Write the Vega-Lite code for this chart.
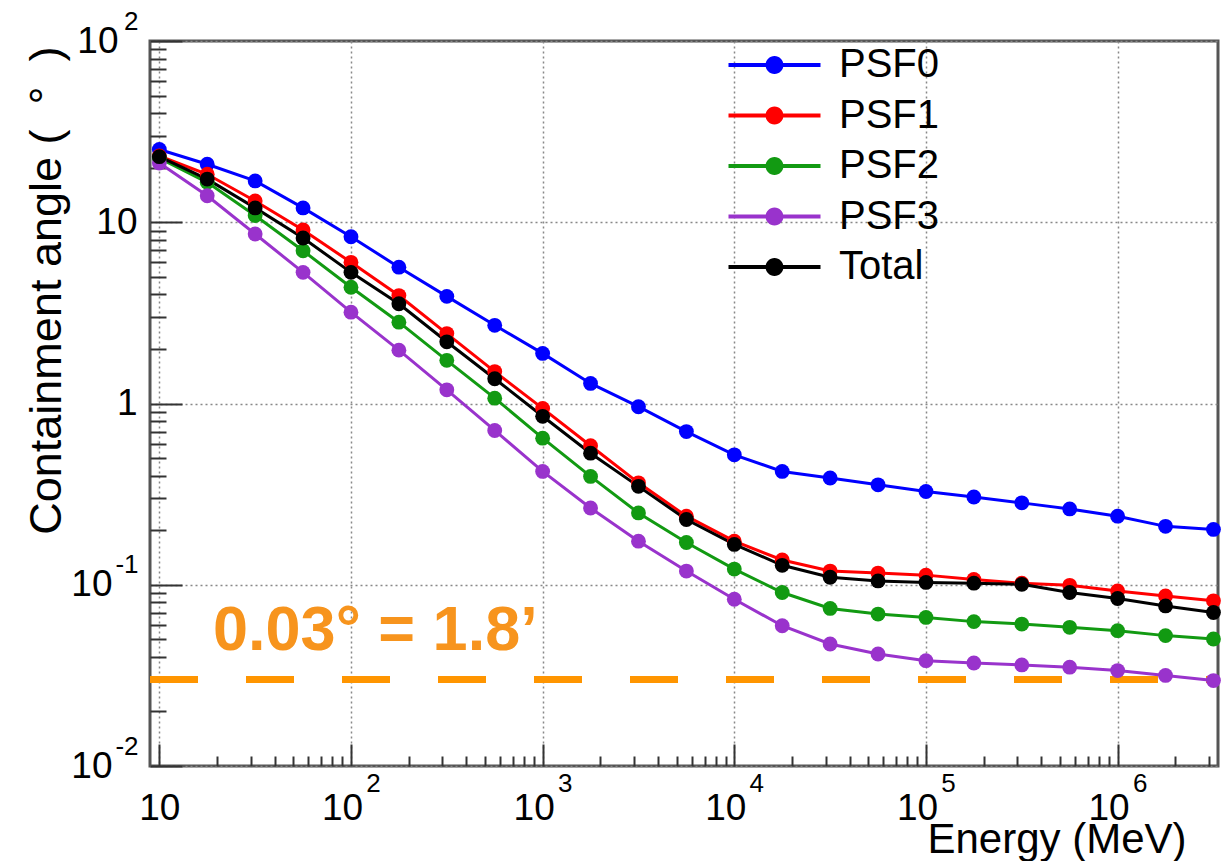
{
  "$schema": "https://vega.github.io/schema/vega-lite/v6.json",
  "width": 1068,
  "height": 725,
  "autosize": {"type": "none"},
  "padding": {"left": 150, "top": 41, "right": 12, "bottom": 95},
  "background": "white",
  "config": {
    "font": "Liberation Sans",
    "view": {"stroke": "#555", "strokeWidth": 3},
    "axis": {"domain": false, "labelFont": "Liberation Sans", "titleFont": "Liberation Sans", "labelColor": "#000", "titleColor": "#000", "labelOverlap": false, "labelFlush": false, "tickColor": "#333", "tickWidth": 2, "titleFontWeight": "normal"}
  },
  "datasets": {
    "psf": [
      {"energy": 10, "series": "PSF0", "angle": 25.2}, {"energy": 17.78, "series": "PSF0", "angle": 20.9}, {"energy": 31.62, "series": "PSF0", "angle": 16.9}, {"energy": 56.23, "series": "PSF0", "angle": 12.0}, {"energy": 100, "series": "PSF0", "angle": 8.32}, {"energy": 177.8, "series": "PSF0", "angle": 5.65}, {"energy": 316.2, "series": "PSF0", "angle": 3.90}, {"energy": 562.3, "series": "PSF0", "angle": 2.70}, {"energy": 1000, "series": "PSF0", "angle": 1.89}, {"energy": 1778, "series": "PSF0", "angle": 1.29}, {"energy": 3162, "series": "PSF0", "angle": 0.96}, {"energy": 5623, "series": "PSF0", "angle": 0.70}, {"energy": 10000, "series": "PSF0", "angle": 0.521}, {"energy": 17783, "series": "PSF0", "angle": 0.422}, {"energy": 31623, "series": "PSF0", "angle": 0.388}, {"energy": 56234, "series": "PSF0", "angle": 0.356}, {"energy": 100000, "series": "PSF0", "angle": 0.327}, {"energy": 177828, "series": "PSF0", "angle": 0.305}, {"energy": 316228, "series": "PSF0", "angle": 0.283}, {"energy": 562341, "series": "PSF0", "angle": 0.262}, {"energy": 1000000, "series": "PSF0", "angle": 0.239}, {"energy": 1778279, "series": "PSF0", "angle": 0.210}, {"energy": 3162278, "series": "PSF0", "angle": 0.202},
      {"energy": 10, "series": "PSF1", "angle": 23.2}, {"energy": 17.78, "series": "PSF1", "angle": 18.4}, {"energy": 31.62, "series": "PSF1", "angle": 13.1}, {"energy": 56.23, "series": "PSF1", "angle": 9.06}, {"energy": 100, "series": "PSF1", "angle": 6.01}, {"energy": 177.8, "series": "PSF1", "angle": 3.94}, {"energy": 316.2, "series": "PSF1", "angle": 2.43}, {"energy": 562.3, "series": "PSF1", "angle": 1.50}, {"energy": 1000, "series": "PSF1", "angle": 0.94}, {"energy": 1778, "series": "PSF1", "angle": 0.585}, {"energy": 3162, "series": "PSF1", "angle": 0.365}, {"energy": 5623, "series": "PSF1", "angle": 0.239}, {"energy": 10000, "series": "PSF1", "angle": 0.174}, {"energy": 17783, "series": "PSF1", "angle": 0.137}, {"energy": 31623, "series": "PSF1", "angle": 0.119}, {"energy": 56234, "series": "PSF1", "angle": 0.116}, {"energy": 100000, "series": "PSF1", "angle": 0.113}, {"energy": 177828, "series": "PSF1", "angle": 0.107}, {"energy": 316228, "series": "PSF1", "angle": 0.102}, {"energy": 562341, "series": "PSF1", "angle": 0.0993}, {"energy": 1000000, "series": "PSF1", "angle": 0.0925}, {"energy": 1778279, "series": "PSF1", "angle": 0.0867}, {"energy": 3162278, "series": "PSF1", "angle": 0.0815},
      {"energy": 10, "series": "PSF2", "angle": 22.6}, {"energy": 17.78, "series": "PSF2", "angle": 16.6}, {"energy": 31.62, "series": "PSF2", "angle": 10.9}, {"energy": 56.23, "series": "PSF2", "angle": 6.96}, {"energy": 100, "series": "PSF2", "angle": 4.38}, {"energy": 177.8, "series": "PSF2", "angle": 2.81}, {"energy": 316.2, "series": "PSF2", "angle": 1.73}, {"energy": 562.3, "series": "PSF2", "angle": 1.07}, {"energy": 1000, "series": "PSF2", "angle": 0.644}, {"energy": 1778, "series": "PSF2", "angle": 0.396}, {"energy": 3162, "series": "PSF2", "angle": 0.249}, {"energy": 5623, "series": "PSF2", "angle": 0.171}, {"energy": 10000, "series": "PSF2", "angle": 0.122}, {"energy": 17783, "series": "PSF2", "angle": 0.0906}, {"energy": 31623, "series": "PSF2", "angle": 0.074}, {"energy": 56234, "series": "PSF2", "angle": 0.0689}, {"energy": 100000, "series": "PSF2", "angle": 0.066}, {"energy": 177828, "series": "PSF2", "angle": 0.0626}, {"energy": 316228, "series": "PSF2", "angle": 0.0607}, {"energy": 562341, "series": "PSF2", "angle": 0.0582}, {"energy": 1000000, "series": "PSF2", "angle": 0.0558}, {"energy": 1778279, "series": "PSF2", "angle": 0.0524}, {"energy": 3162278, "series": "PSF2", "angle": 0.0502},
      {"energy": 10, "series": "PSF3", "angle": 21.2}, {"energy": 17.78, "series": "PSF3", "angle": 14.0}, {"energy": 31.62, "series": "PSF3", "angle": 8.61}, {"energy": 56.23, "series": "PSF3", "angle": 5.29}, {"energy": 100, "series": "PSF3", "angle": 3.19}, {"energy": 177.8, "series": "PSF3", "angle": 1.97}, {"energy": 316.2, "series": "PSF3", "angle": 1.19}, {"energy": 562.3, "series": "PSF3", "angle": 0.71}, {"energy": 1000, "series": "PSF3", "angle": 0.422}, {"energy": 1778, "series": "PSF3", "angle": 0.265}, {"energy": 3162, "series": "PSF3", "angle": 0.174}, {"energy": 5623, "series": "PSF3", "angle": 0.119}, {"energy": 10000, "series": "PSF3", "angle": 0.0832}, {"energy": 17783, "series": "PSF3", "angle": 0.0594}, {"energy": 31623, "series": "PSF3", "angle": 0.0471}, {"energy": 56234, "series": "PSF3", "angle": 0.0415}, {"energy": 100000, "series": "PSF3", "angle": 0.0381}, {"energy": 177828, "series": "PSF3", "angle": 0.0370}, {"energy": 316228, "series": "PSF3", "angle": 0.0361}, {"energy": 562341, "series": "PSF3", "angle": 0.0351}, {"energy": 1000000, "series": "PSF3", "angle": 0.0336}, {"energy": 1778279, "series": "PSF3", "angle": 0.0316}, {"energy": 3162278, "series": "PSF3", "angle": 0.0296},
      {"energy": 10, "series": "Total", "angle": 23.0}, {"energy": 17.78, "series": "Total", "angle": 17.3}, {"energy": 31.62, "series": "Total", "angle": 12.0}, {"energy": 56.23, "series": "Total", "angle": 8.19}, {"energy": 100, "series": "Total", "angle": 5.29}, {"energy": 177.8, "series": "Total", "angle": 3.55}, {"energy": 316.2, "series": "Total", "angle": 2.19}, {"energy": 562.3, "series": "Total", "angle": 1.37}, {"energy": 1000, "series": "Total", "angle": 0.85}, {"energy": 1778, "series": "Total", "angle": 0.532}, {"energy": 3162, "series": "Total", "angle": 0.349}, {"energy": 5623, "series": "Total", "angle": 0.229}, {"energy": 10000, "series": "Total", "angle": 0.167}, {"energy": 17783, "series": "Total", "angle": 0.128}, {"energy": 31623, "series": "Total", "angle": 0.110}, {"energy": 56234, "series": "Total", "angle": 0.105}, {"energy": 100000, "series": "Total", "angle": 0.103}, {"energy": 177828, "series": "Total", "angle": 0.102}, {"energy": 316228, "series": "Total", "angle": 0.1005}, {"energy": 562341, "series": "Total", "angle": 0.0906}, {"energy": 1000000, "series": "Total", "angle": 0.0840}, {"energy": 1778279, "series": "Total", "angle": 0.0764}, {"energy": 3162278, "series": "Total", "angle": 0.0703}
    ]
  },
  "layer": [
    {
      "data": {"values": [{"limit": 0.03}]},
      "mark": {"type": "rule", "color": "#FF9500", "strokeWidth": 7, "strokeDash": [48, 48], "strokeDashOffset": 36},
      "encoding": {
        "y": {"field": "limit", "type": "quantitative", "scale": {"type": "log", "domain": [0.01, 100], "nice": false},
          "axis": {"orient": "left", "values": [100, 0.1, 0.01], "labelExpr": "datum.value > 50 ? '2' : (datum.value > 0.05 ? '-1' : '-2')", "ticks": false, "tickSize": 0, "grid": false, "labelAlign": "right", "labelBaseline": "middle", "labelFontSize": 26, "labelPadding": 12, "labelOffset": -20, "title": null}}
      }
    },
    {
      "data": {"name": "psf"},
      "mark": {"type": "line", "strokeWidth": 3},
      "encoding": {
        "x": {"field": "energy", "type": "quantitative", "scale": {"type": "log", "domain": [8.94, 3340000], "nice": false},
          "axis": {"orient": "bottom", "values": [10, 100, 1000, 10000, 100000, 1000000], "labels": false, "ticks": true, "tickSize": -22, "grid": true, "gridDash": [2, 3], "gridColor": "#888", "gridWidth": 1.5, "title": null}},
        "y": {"field": "angle", "type": "quantitative", "scale": {"type": "log", "domain": [0.01, 100], "nice": false},
          "axis": {"orient": "left", "values": [0.01, 0.1, 1, 10, 100], "labels": false, "ticks": true, "tickSize": -32, "grid": true, "gridDash": [2, 3], "gridColor": "#888", "gridWidth": 1.5, "title": null}},
        "color": {"field": "series", "type": "nominal",
          "scale": {"domain": ["PSF0", "PSF1", "PSF2", "PSF3", "Total"], "range": ["#0000FF", "#FF0000", "#129A12", "#9933CC", "#000000"]},
          "legend": {"orient": "none", "legendX": 604.5, "legendY": 4, "title": null, "symbolType": "M-4,-0.17H4V0.17H-4Z M0.78,0A0.78,0.78,0,1,1,-0.78,0A0.78,0.78,0,1,1,0.78,0Z", "symbolSize": 529, "symbolStrokeWidth": 0, "symbolOpacity": 1, "labelFontSize": 40, "labelFont": "Liberation Sans", "labelColor": "#000", "labelOffset": 44.5, "rowPadding": 10.5, "padding": 0, "labelLimit": 0,
            "encode": {"symbols": {"update": {"fill": {"scale": "color", "field": "value"}, "stroke": {"value": "transparent"}}}}}}
      }
    },
    {
      "data": {"name": "psf"},
      "mark": {"type": "point", "filled": true, "size": 220, "opacity": 1},
      "encoding": {
        "x": {"field": "energy", "type": "quantitative", "scale": {"type": "log", "domain": [8.94, 3340000], "nice": false},
          "axis": {"orient": "bottom", "values": [20, 30, 40, 50, 60, 70, 80, 90, 200, 300, 400, 500, 600, 700, 800, 900, 2000, 3000, 4000, 5000, 6000, 7000, 8000, 9000, 20000, 30000, 40000, 50000, 60000, 70000, 80000, 90000, 200000, 300000, 400000, 500000, 600000, 700000, 800000, 900000, 2000000, 3000000], "labels": false, "ticks": true, "tickSize": -10, "grid": false, "title": null}},
        "y": {"field": "angle", "type": "quantitative", "scale": {"type": "log", "domain": [0.01, 100], "nice": false},
          "axis": {"orient": "left", "values": [0.02, 0.03, 0.04, 0.05, 0.06, 0.07, 0.08, 0.09, 0.2, 0.3, 0.4, 0.5, 0.6, 0.7, 0.8, 0.9, 2, 3, 4, 5, 6, 7, 8, 9, 20, 30, 40, 50, 60, 70, 80, 90], "labels": false, "ticks": true, "tickSize": -16, "grid": false, "title": null}},
        "color": {"field": "series", "type": "nominal",
          "scale": {"domain": ["PSF0", "PSF1", "PSF2", "PSF3", "Total"], "range": ["#0000FF", "#FF0000", "#129A12", "#9933CC", "#000000"]},
          "legend": {"orient": "none", "legendX": 604.5, "legendY": 4, "title": null, "symbolType": "M-4,-0.17H4V0.17H-4Z M0.78,0A0.78,0.78,0,1,1,-0.78,0A0.78,0.78,0,1,1,0.78,0Z", "symbolSize": 529, "symbolStrokeWidth": 0, "symbolOpacity": 1, "labelFontSize": 40, "labelFont": "Liberation Sans", "labelColor": "#000", "labelOffset": 44.5, "rowPadding": 10.5, "padding": 0, "labelLimit": 0,
            "encode": {"symbols": {"update": {"fill": {"scale": "color", "field": "value"}, "stroke": {"value": "transparent"}}}}}}
      }
    },
    {
      "data": {"values": [{"energy": 19.06, "angle": 0.0436, "label": "0.03° = 1.8’"}]},
      "mark": {"type": "text", "fontSize": 63, "fontWeight": "bold", "font": "Liberation Sans", "color": "#F7941D", "align": "left", "baseline": "alphabetic"},
      "encoding": {
        "x": {"field": "energy", "type": "quantitative", "scale": {"type": "log", "domain": [8.94, 3340000], "nice": false},
          "axis": {"orient": "bottom", "values": [10], "labelExpr": "'10'", "ticks": false, "tickSize": 0, "grid": false, "labelAlign": "center", "labelBaseline": "top", "labelFontSize": 37, "labelPadding": 24.5,
            "title": "Energy (MeV)", "titleFontSize": 42, "titleAlign": "right", "titleBaseline": "alphabetic", "titleX": 1036, "titleY": 86}},
        "y": {"field": "angle", "type": "quantitative", "scale": {"type": "log", "domain": [0.01, 100], "nice": false},
          "axis": {"orient": "left", "values": [1, 10], "labelExpr": "datum.value == 1 ? '1' : '10'", "ticks": false, "tickSize": 0, "grid": false, "labelAlign": "right", "labelBaseline": "middle", "labelFontSize": 37, "labelPadding": 13,
            "title": "Containment angle (\u00a0\u00a0°\u00a0\u00a0)", "titleFontSize": 45, "titleAngle": -90, "titleAlign": "right", "titleBaseline": "top", "titleX": -126, "titleY": 5}},
        "text": {"field": "label"}
      }
    },
    {
      "data": {"name": "psf"},
      "mark": {"type": "point", "opacity": 0},
      "encoding": {
        "x": {"field": "energy", "type": "quantitative", "scale": {"type": "log", "domain": [8.94, 3340000], "nice": false},
          "axis": {"orient": "bottom", "values": [100, 1000, 10000, 100000, 1000000], "labelExpr": "'' + round(log(datum.value) / LN10)", "ticks": false, "tickSize": 0, "grid": false, "labelAlign": "center", "labelBaseline": "top", "labelFontSize": 26, "labelPadding": 4, "labelOffset": 22, "title": null}},
        "y": {"field": "angle", "type": "quantitative", "scale": {"type": "log", "domain": [0.01, 100], "nice": false},
          "axis": {"orient": "left", "values": [100], "labelExpr": "'10'", "ticks": false, "tickSize": 0, "grid": false, "labelAlign": "right", "labelBaseline": "middle", "labelFontSize": 37, "labelPadding": 32, "title": null}}
      }
    },
    {
      "data": {"name": "psf"},
      "mark": {"type": "point", "opacity": 0},
      "encoding": {
        "x": {"field": "energy", "type": "quantitative", "scale": {"type": "log", "domain": [8.94, 3340000], "nice": false},
          "axis": {"orient": "bottom", "values": [100, 1000, 10000, 100000, 1000000], "labelExpr": "'10'", "ticks": false, "tickSize": 0, "grid": false, "labelAlign": "center", "labelBaseline": "top", "labelFontSize": 37, "labelPadding": 24.5, "labelOffset": -9, "title": null}},
        "y": {"field": "angle", "type": "quantitative", "scale": {"type": "log", "domain": [0.01, 100], "nice": false},
          "axis": {"orient": "left", "values": [0.1, 0.01], "labelExpr": "'10'", "ticks": false, "tickSize": 0, "grid": false, "labelAlign": "right", "labelBaseline": "middle", "labelFontSize": 37, "labelPadding": 38, "title": null}}
      }
    }
  ],
  "resolve": {"axis": {"x": "independent", "y": "independent"}}
}
